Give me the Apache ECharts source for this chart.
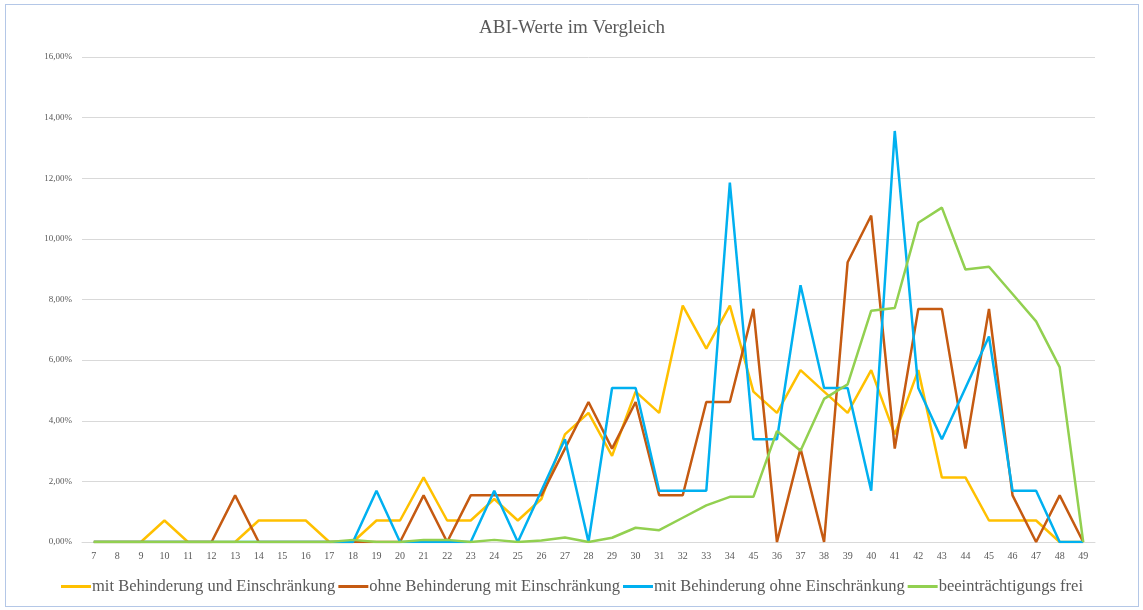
<!DOCTYPE html>
<html style="height: 100%">
    <head>
        <meta charset="utf-8">
    </head>
    <body style="height: 100%; margin: 0; background: #fff;">
        <div id="container" style="position:absolute;left:5px;top:4px;width:1132px;height:601px;border:1px solid #b4c7e7;"></div>
        <script src="https://cdn.jsdelivr.net/npm/echarts@6/dist/echarts.min.js"></script>
        <script>
        var categories = ['7', '8', '9', '10', '11', '12', '13', '14', '15', '16', '17', '18', '19', '20',
            '21', '22', '23', '24', '25', '26', '27', '28', '29', '30', '31', '32', '33', '34', '45',
            '36', '37', '38', '39', '40', '41', '42', '43', '44', '45', '46', '47', '48', '49'];

        // Werte in Prozent
        var mitBehMitEin = [0, 0, 0, 0.71, 0, 0, 0, 0.71, 0.71, 0.71, 0, 0, 0.71, 0.71,
            2.13, 0.71, 0.71, 1.42, 0.71, 1.42, 3.55, 4.26, 2.84, 4.96, 4.26, 7.80, 6.38, 7.80, 4.96,
            4.26, 5.67, 4.96, 4.26, 5.67, 3.55, 5.67, 2.13, 2.13, 0.71, 0.71, 0.71, 0, 0];
        var ohneBehMitEin = [0, 0, 0, 0, 0, 0, 1.54, 0, 0, 0, 0, 0, 0, 0,
            1.54, 0, 1.54, 1.54, 1.54, 1.54, 3.08, 4.62, 3.08, 4.62, 1.54, 1.54, 4.62, 4.62, 7.69,
            0, 3.08, 0, 9.23, 10.77, 3.08, 7.69, 7.69, 3.08, 7.69, 1.54, 0, 1.54, 0];
        var mitBehOhneEin = [0, 0, 0, 0, 0, 0, 0, 0, 0, 0, 0, 0, 1.69, 0,
            0, 0, 0, 1.69, 0, 1.69, 3.39, 0, 5.08, 5.08, 1.69, 1.69, 1.69, 11.86, 3.39,
            3.39, 8.47, 5.08, 5.08, 1.69, 13.56, 5.08, 3.39, 5.08, 6.78, 1.69, 1.69, 0, 0];
        var frei = [0, 0, 0, 0, 0, 0, 0, 0, 0, 0, 0, 0.07, 0, 0,
            0.07, 0.07, 0, 0.07, 0, 0.05, 0.15, 0, 0.14, 0.47, 0.39, 0.80, 1.21, 1.49, 1.49,
            3.66, 3.01, 4.72, 5.20, 7.63, 7.72, 10.53, 11.03, 8.99, 9.08, 8.18, 7.28, 5.77, 0];

        var seriesNames = ['mit Behinderung und Einschränkung', 'ohne Behinderung mit Einschränkung',
            'mit Behinderung ohne Einschränkung', 'beeinträchtigungs frei'];
        var seriesData = [mitBehMitEin, ohneBehMitEin, mitBehOhneEin, frei];
        var colors = ['#ffc000', '#c55a11', '#00b0f0', '#92d050'];

        var serif = '"Liberation Serif", "DejaVu Serif", serif';
        var chart = echarts.init(document.getElementById('container'));

        var option = {
            animation: false,
            color: colors,
            title: {
                text: 'ABI-Werte im Vergleich',
                left: 'center',
                top: 9,
                textStyle: { fontFamily: serif, fontSize: 19, fontWeight: 'normal', color: '#595959' }
            },
            legend: {
                bottom: 6,
                left: 'center',
                icon: 'rect',
                itemWidth: 30,
                itemHeight: 3,
                itemGap: 3,
                textStyle: { fontFamily: serif, fontSize: 16.5, color: '#595959', padding: [0, 0, 0, -4] },
                data: seriesNames
            },
            grid: { left: 76, right: 43, top: 52, bottom: 64 },
            xAxis: {
                type: 'category',
                data: categories,
                boundaryGap: true,
                axisLine: { lineStyle: { color: '#d9d9d9', width: 1 } },
                axisTick: { show: false },
                axisLabel: { fontFamily: serif, fontSize: 10, color: '#595959', margin: 9, interval: 0 }
            },
            yAxis: {
                type: 'value',
                min: 0,
                max: 16,
                interval: 2,
                axisLine: { show: false },
                axisTick: { show: false },
                splitLine: { lineStyle: { color: '#d9d9d9', width: 1 } },
                axisLabel: {
                    fontFamily: serif, fontSize: 9, color: '#595959', margin: 10,
                    formatter: function (v) { return v.toFixed(2).replace('.', ',') + '%'; }
                }
            },
            series: seriesData.map(function (d, i) {
                return {
                    name: seriesNames[i],
                    type: 'line',
                    data: d,
                    symbol: 'none',
                    lineStyle: { width: 2.5, color: colors[i] },
                    itemStyle: { color: colors[i] }
                };
            })
        };

        chart.setOption(option);
        </script>
    </body>
</html>
